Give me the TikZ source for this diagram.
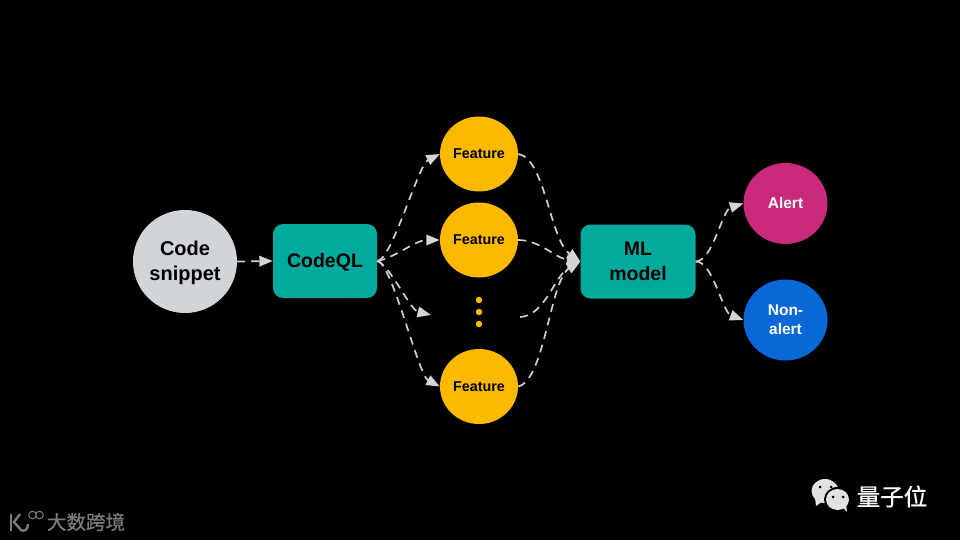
\documentclass[tikz,border=0pt]{standalone}
\usepackage{fontspec}
\setmainfont{Liberation Sans}
\newfontfamily\cjkfont[FakeBold=0.7]{Noto Sans CJK SC}
\usetikzlibrary{arrows.meta,shapes.geometric}
\definecolor{cgrey}{HTML}{D1D4D9}
\definecolor{cteal}{HTML}{02A99D}
\definecolor{cyel}{HTML}{FBBA00}
\definecolor{cpink}{HTML}{C92A7C}
\definecolor{cblue}{HTML}{0868D8}
\definecolor{cline}{HTML}{CDD0D4}
\definecolor{cmark}{HTML}{7C7C7C}
\definecolor{cwech}{HTML}{E2E2E2}
\tikzset{
  x=1pt,y=-1pt,
  roundnode/.style={ellipse,inner sep=0pt,font=\bfseries,align=center,text=black},
  tealbox/.style={rounded corners=10pt,fill=cteal,inner sep=0pt,font=\bfseries\fontsize{19.5}{25}\selectfont,align=center,text=black,minimum height=74pt},
  feat/.style={roundnode,fill=cyel,minimum width=78pt,minimum height=75pt,font=\bfseries\fontsize{14.3}{16}\selectfont},
  outnode/.style={roundnode,minimum width=84pt,minimum height=81pt,text=white,font=\bfseries\fontsize{15.5}{19}\selectfont},
  conn/.style={draw=cline,line width=1.7pt,dash pattern=on 8pt off 6pt,-{Triangle[length=13.5pt,width=10.5pt,fill=cgrey,color=cgrey,sep=0pt]}},
  wdot/.style={circle,fill=cyel,minimum size=6.5pt,inner sep=0pt},
}
\begin{document}
\begin{tikzpicture}
\fill[black] (0,0) rectangle (960,540);
\useasboundingbox (0,0) rectangle (960,540);
\node[roundnode,fill=cgrey,minimum width=104pt,minimum height=103pt] (code) at (185,261.5) {};
\node[font=\bfseries\fontsize{20}{25}\selectfont,align=center,text=black,inner sep=0pt] (codet) at (185,263) {Code\\snippet};
\node[tealbox,minimum width=104pt] (ql) at (325,261) {};
\node[font=\bfseries\fontsize{19.5}{25}\selectfont,text=black,inner sep=0pt] (qlt) at (325,262.5) {CodeQL};
\node[tealbox,minimum width=115pt] (ml) at (638,261.5) {ML\\model};
\node[feat] (f1) at (479,154) {Feature};
\node[feat] (f2) at (479,240) {Feature};
\node[feat] (f3) at (479,386.5) {Feature};
\node[wdot] (d1) at (479,300) {};
\node[wdot] (d2) at (479,312) {};
\node[wdot] (d3) at (479,324) {};
\node[outnode,fill=cpink] (al) at (785.5,203.5) {};
\node[font=\bfseries\fontsize{15.5}{19}\selectfont,text=white,inner sep=0pt] (alt) at (785.5,203) {Alert};
\node[outnode,fill=cblue] (na) at (785.5,320) {Non-\\alert};
\coordinate (qo) at (ql.east);
\coordinate (mi) at (ml.west);
\coordinate (mo) at (ml.east);
\coordinate (gapin) at (431,315);
\coordinate (gapout) at (520,317);
\draw[conn] (code.east) -- (ql.west);
\draw[conn] (qo) .. controls (392,260) and (418,165) .. (f1.west);
\draw[conn] (qo) .. controls (395,258) and (415,240) .. (f2.west);
\draw[conn] (qo) .. controls (390,265) and (410,310) .. (gapin);
\draw[conn] (qo) .. controls (392,262) and (418,375) .. (f3.west);
\draw[conn] (f1.east) .. controls (545,158) and (550,240) .. (mi);
\draw[conn] (f2.east) .. controls (540,240) and (555,258) .. (mi);
\draw[conn] (gapout) .. controls (545,316) and (555,275) .. (mi);
\draw[conn] (f3.east) .. controls (545,380) and (550,280) .. (mi);
\draw[conn] (mo) .. controls (713,261) and (722,210) .. (al.west);
\draw[conn] (mo) .. controls (713,261) and (722,312) .. (na.west);
% WeChat mark
\fill[cwech] (825,491) ellipse (13.5pt and 12pt);
\fill[cwech] (815,498) -- (816,506) -- (823,501) -- cycle;
\fill[black] (837.5,499.5) ellipse (13.5pt and 12.5pt);
\fill[cwech] (837.5,499.5) ellipse (11.5pt and 10.5pt);
\fill[cwech] (842,507) -- (847,512) -- (846,504) -- cycle;
\fill[black] (820,487) circle (1.5pt) (831,487) circle (1.5pt) (833,497) circle (1.5pt) (843,497) circle (1.5pt);
\node[text=white,font=\cjkfont\fontsize{23.5}{25}\selectfont,inner sep=0pt] (qz) at (892,496.5) {量子位};
% lower-left mark
\draw[cmark,line width=2.4pt] (11,514) -- (11,531);
\draw[cmark,line width=2.4pt] (20,514) -- (14,522) -- (21,530) .. controls (24,532) and (28,530) .. (28,524);
\draw[cmark,line width=1pt] (32.5,515) circle (3.8pt) (39.5,515) circle (3.8pt);
\node[text=cmark,font=\cjkfont\fontsize{19.5}{21}\selectfont,inner sep=0pt] (dsk) at (86,522) {大数跨境};
\end{tikzpicture}
\end{document}
